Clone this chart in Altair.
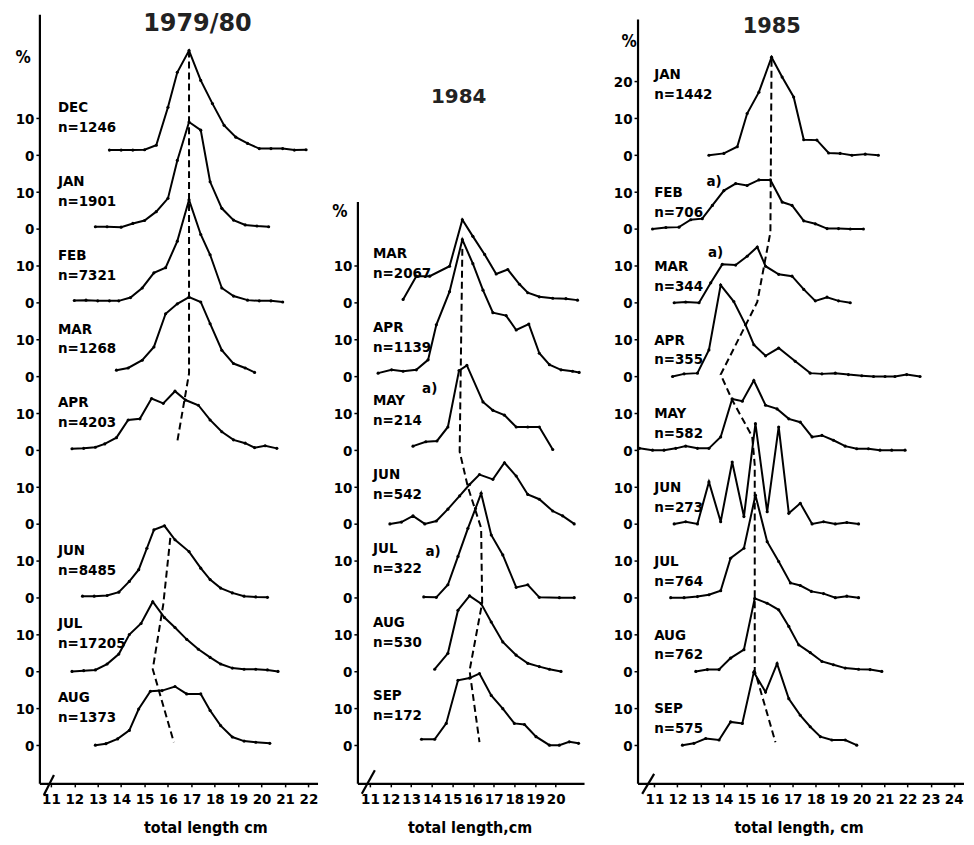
import altair as alt
import pandas as pd

FONT = "DejaVu Sans Condensed, DejaVu Sans, sans-serif"
YDOM = [-10.5, 198.5]
SLOT = 20  # each month is stacked 20 % units above the previous one

# ---------------- 1979/80 ----------------
months_7980 = ["DEC", "JAN", "FEB", "MAR", "APR", "JUN", "JUL", "AUG"]
n_7980 = ["n=1246", "n=1901", "n=7321", "n=1268", "n=4203", "n=8485", "n=17205", "n=1373"]
slot_7980 = [8, 7, 6, 5, 4, 2, 1, 0]
len_7980 = {
    "DEC": [13.5, 14.0, 14.5, 15.0, 15.5, 16.0, 16.4, 16.9, 17.4, 17.9, 18.4, 18.9, 19.4, 19.9, 20.4, 20.9, 21.4, 21.9],
    "JAN": [12.9, 13.4, 14.0, 14.5, 15.0, 15.5, 16.0, 16.4, 16.9, 17.4, 17.8, 18.3, 18.8, 19.3, 19.8, 20.3],
    "FEB": [12.0, 12.5, 13.0, 13.5, 13.9, 14.4, 14.9, 15.4, 15.9, 16.4, 16.9, 17.4, 17.8, 18.3, 18.8, 19.4, 19.9, 20.4, 20.9],
    "MAR": [13.8, 14.3, 14.9, 15.4, 15.9, 16.4, 16.9, 17.4, 17.8, 18.3, 18.8, 19.3, 19.7],
    "APR": [11.9, 12.4, 12.9, 13.3, 13.8, 14.3, 14.8, 15.3, 15.8, 16.3, 16.75, 17.3, 17.8, 18.3, 18.8, 19.3, 19.7, 20.15, 20.65],
    "JUN": [12.35, 12.85, 13.4, 13.9, 14.35, 14.75, 15.1, 15.4, 15.85, 16.3, 16.9, 17.4, 17.8, 18.25, 18.75, 19.25, 19.75, 20.25],
    "JUL": [11.9, 12.4, 12.9, 13.4, 13.9, 14.35, 14.85, 15.35, 15.85, 16.3, 16.8, 17.3, 17.8, 18.25, 18.75, 19.25, 19.75, 20.25, 20.7],
    "AUG": [12.9, 13.35, 13.85, 14.35, 14.75, 15.25, 15.75, 16.3, 16.8, 17.4, 17.8, 18.25, 18.75, 19.25, 19.75, 20.35],
}
pct_7980 = {
    "DEC": [1.4, 1.4, 1.4, 1.5, 2.7, 13, 22.5, 28.4, 20.3, 14, 8.1, 4.9, 3.2, 1.8, 1.8, 1.8, 1.4, 1.5],
    "JAN": [0.6, 0.6, 0.5, 1.5, 2.3, 4.7, 8.3, 18.6, 29, 26.8, 12.8, 5.6, 2.4, 1.1, 0.8, 0.6],
    "FEB": [0.6, 0.7, 0.5, 0.5, 0.5, 1.4, 4, 8.1, 9.5, 16.7, 27.9, 18.5, 13, 4, 1.8, 0.7, 0.5, 0.5, 0.2],
    "MAR": [1.7, 2.3, 4.4, 8, 17, 19.7, 21.5, 20.2, 14.3, 7.1, 3.5, 2.3, 1.1],
    "APR": [0.4, 0.5, 0.8, 1.7, 3.4, 8.2, 8.5, 14, 12.7, 16, 13.6, 12.2, 8.2, 5, 2.8, 1.9, 0.7, 1.2, 0.5],
    "JUN": [0.4, 0.4, 0.6, 1.5, 4.4, 7.6, 13.4, 18.4, 19.5, 15.7, 12.5, 8, 4.9, 2.6, 1.3, 0.4, 0.2, 0.1],
    "JUL": [0, 0.2, 0.4, 2, 4.7, 10, 13, 18.9, 14.6, 11.9, 8.7, 6, 3.8, 2, 0.9, 0.6, 0.6, 0.4, 0],
    "AUG": [0, 0.4, 1.7, 4, 9.8, 14.6, 14.8, 15.9, 13.9, 13.9, 9.4, 5.3, 2.2, 1.1, 0.8, 0.5],
}
mode_7980 = [
    [(16.9, 188.4), (16.9, 100.8), (16.4, 82.4)],
    [(16.1, 56.2), (15.8, 38.2), (15.35, 20.6), (16.25, 0.8)],
]

# ---------------- 1984 ----------------
months_84 = ["MAR", "APR", "MAY", "JUN", "JUL", "AUG", "SEP"]
n_84 = ["n=2067", "n=1139", "n=214", "n=542", "n=322", "n=530", "n=172"]
slot_84 = [6, 5, 4, 3, 2, 1, 0]
len_84 = {
    "MAR": [12.61, 13.25, 13.9, 14.86, 15.48, 15.99, 16.56, 17.12, 17.68, 18.25, 18.65, 19.21, 19.86, 20.5, 21.06],
    "APR": [11.4, 12.05, 12.61, 13.25, 13.82, 14.22, 14.86, 15.48, 15.99, 16.48, 16.96, 17.6, 18.09, 18.7, 19.21, 19.7, 20.26, 20.82, 21.14],
    "MAY": [13.09, 13.71, 14.25, 14.78, 15.32, 15.7, 16.48, 16.96, 17.52, 18.09, 18.65, 19.21, 19.86],
    "JUN": [11.97, 12.53, 13.09, 13.66, 14.22, 14.78, 15.35, 15.83, 16.31, 16.96, 17.52, 18.09, 18.65, 19.21, 19.86, 20.34, 20.9],
    "JUL": [13.61, 14.22, 14.78, 15.27, 15.75, 16.12, 16.39, 16.88, 17.44, 18.09, 18.65, 19.21, 20.18, 20.9],
    "AUG": [14.14, 14.78, 15.27, 15.83, 16.39, 16.88, 17.44, 18.09, 18.65, 19.21, 19.7, 20.26],
    "SEP": [13.5, 14.14, 14.7, 15.27, 15.83, 16.31, 16.88, 17.44, 18.0, 18.49, 19.05, 19.7, 20.18, 20.66, 21.11],
}
pct_84 = {
    "MAR": [0.9, 7.2, 7.2, 9.9, 22.5, 18, 13.1, 7.8, 9, 5, 2.7, 1.6, 1.2, 1.1, 0.7],
    "APR": [0.9, 1.8, 1.4, 1.8, 4.5, 14, 23, 37.1, 30.6, 23.4, 17.3, 16.5, 12.6, 14.2, 6.3, 3.2, 1.8, 1.4, 1.1],
    "MAY": [1.1, 2.3, 2.5, 6.3, 21.6, 23, 13.1, 10.8, 9.5, 6.3, 6.3, 6.3, 0.2],
    "JUN": [0, 0.5, 2.2, 0, 0.8, 4, 7.6, 10.7, 13.4, 12.1, 16.6, 13, 8, 6.7, 3.5, 2.2, 0],
    "JUL": [0.2, 0.1, 3.5, 11.2, 18.8, 24.2, 28.3, 17, 11.6, 2.8, 3.5, 0.1, 0, 0],
    "AUG": [0.6, 4.9, 16.6, 20.5, 18.4, 13.4, 8, 4.4, 2.2, 1.3, 0.6, 0],
    "SEP": [1.6, 1.6, 5.9, 17.6, 18.2, 19.4, 13.5, 9.9, 5.9, 5.6, 2.3, 0, 0, 0.9, 0.5],
}
mode_84 = [
    [(15.48, 134.6), (15.35, 79.6), (15.75, 70), (16.39, 58.9), (16.44, 38.6), (15.83, 20.2), (16.31, 0.8)],
]

# ---------------- 1985 ----------------
months_85 = ["JAN", "FEB", "MAR", "APR", "MAY", "JUN", "JUL", "AUG", "SEP"]
n_85 = ["n=1442", "n=706", "n=344", "n=355", "n=582", "n=273", "n=764", "n=762", "n=575"]
slot_85 = [8, 7, 6, 5, 4, 3, 2, 1, 0]
len_85 = {
    "JAN": [13.37, 14.02, 14.6, 15.03, 15.54, 16.09, 16.55, 17.05, 17.49, 18.06, 18.57, 19.07, 19.58, 20.16, 20.73],
    "FEB": [10.92, 11.5, 12.07, 12.58, 13.08, 13.52, 14.02, 14.53, 15.03, 15.54, 16.04, 16.55, 16.98, 17.49, 17.99, 18.5, 19.0, 19.51, 20.08],
    "MAR": [11.86, 12.36, 12.94, 13.45, 13.95, 14.53, 15.03, 15.47, 15.83, 16.4, 16.98, 17.49, 17.99, 18.5, 19.0, 19.51],
    "APR": [11.79, 12.29, 12.87, 13.37, 13.88, 14.45, 14.96, 15.32, 15.83, 16.4, 17.12, 17.77, 18.28, 18.86, 19.43, 20.01, 20.52, 21.02, 21.45, 21.96, 22.54],
    "MAY": [10.35, 10.92, 11.42, 11.93, 12.36, 12.87, 13.37, 13.88, 14.38, 14.82, 15.32, 15.83, 16.33, 16.84, 17.34, 17.85, 18.28, 18.78, 19.29, 19.79, 20.3, 20.8, 21.31, 21.89],
    "JUN": [11.86, 12.36, 12.87, 13.37, 13.88, 14.38, 14.89, 15.39, 15.9, 16.4, 16.84, 17.34, 17.85, 18.35, 18.86, 19.36, 19.87],
    "JUL": [11.71, 12.29, 12.87, 13.37, 13.88, 14.31, 14.89, 15.39, 15.9, 16.4, 16.91, 17.34, 17.82, 18.35, 18.86, 19.36, 19.87],
    "AUG": [12.8, 13.3, 13.81, 14.31, 14.89, 15.36, 15.9, 16.4, 16.84, 17.27, 17.77, 18.28, 18.78, 19.29, 19.87, 20.37, 20.88],
    "SEP": [12.22, 12.72, 13.23, 13.81, 14.31, 14.82, 15.32, 15.83, 16.33, 16.84, 17.34, 17.77, 18.21, 18.71, 19.29, 19.79],
}
pct_85 = {
    "JAN": [0, 0.5, 2.3, 11.3, 17.1, 26.6, 21.2, 15.8, 4.2, 4.1, 0.6, 0.5, 0, 0.3, 0],
    "FEB": [0, 0.4, 0.5, 2.5, 2.8, 6.4, 10.4, 12.3, 11.8, 13.3, 13.3, 7.3, 6.4, 2.2, 1.4, 0.1, 0.1, 0, 0],
    "MAR": [0, 0.2, 0, 5.4, 10.4, 10.2, 12.6, 15.1, 9.9, 7.7, 7.2, 3.6, 0.5, 1.5, 0.5, 0],
    "APR": [0, 0.7, 0.9, 7.2, 24.8, 20.3, 14, 8.6, 5.6, 7.7, 4.1, 0.9, 0.7, 0.9, 0.5, 0.2, 0, 0, 0, 0.5, 0],
    "MAY": [0.5, 0, 0, 0.5, 1.1, 0.5, 0.5, 3.6, 13.9, 13.3, 18.9, 12.2, 11.2, 8.5, 7.6, 3.6, 4, 2.7, 1.1, 0.4, 0.4, 0, 0, 0],
    "JUN": [0, 0.6, 0, 11.4, 0.6, 16.8, 2, 27.2, 3.3, 26.3, 2.9, 5.6, 0, 0.6, 0, 0.4, 0],
    "JUL": [0, 0, 0.3, 0.8, 1.9, 10.7, 13.4, 27.8, 15.2, 9.8, 4, 3.3, 1.7, 1.1, 0, 0.4, 0],
    "AUG": [0, 0.5, 0.5, 3.6, 5.9, 19.8, 18.5, 16.7, 12.2, 7.2, 5.1, 2.7, 1.8, 0.9, 0.6, 0.5, 0],
    "SEP": [0, 0.5, 1.8, 1.4, 6.3, 5.9, 19.8, 14.4, 22.1, 12.6, 8.1, 5, 2.3, 1.4, 1.4, 0],
}
mode_85 = [
    [(16.09, 185.9), (16.04, 139.1), (15.47, 120.2), (14.89, 113), (13.88, 100.5), (14.38, 93.6),
     (15.25, 83.7), (15.36, 76), (15.36, 20.2), (16.26, 0.8)],
]

PANELS = [
    dict(title="1979/80", title_pos=(17.26, 195.7), title_size=24,
         months=months_7980, ns=n_7980, slots=slot_7980, lens=len_7980, pcts=pct_7980, modes=mode_7980,
         xdom=[10.53, 22.41], width=279, xticks=list(range(11, 23)), yvals=list(range(0, 180, 10)),
         lab_x=11.3, lab_off=[(13, 7.6)] * 8, axis_top=198.1, xaxis_end=22.41,
         pct_pos=(9.81, 186.5), brk=(10.70, -13.5, 11.13, -8.1),
         xtitle="total length cm", xtitle_x=166, notes=[]),
    dict(title="1984", title_pos=(15.3, 175.9), title_size=20,
         months=months_84, ns=n_84, slots=slot_84, lens=len_84, pcts=pct_84, modes=mode_84,
         xdom=[10.42, 22.06], width=241, xticks=list(range(11, 21)), yvals=list(range(0, 140, 10)),
         lab_x=11.15, lab_off=[(13.5, 8.1)] * 7, axis_top=147.3, xaxis_end=21.4,
         pct_pos=(9.55, 144.6), brk=(10.61, -13.2, 11.24, -6.8),
         xtitle="total length,cm", xtitle_x=112,
         notes=[(13.9, 96.8, "a)"), (14.06, 52.7, "a)")]),
    dict(title="1985", title_pos=(16.1, 194.9), title_size=21,
         months=months_85, ns=n_85, slots=slot_85, lens=len_85, pcts=pct_85, modes=mode_85,
         xdom=[10.29, 24.45], width=327, xticks=list(range(11, 25)), yvals=list(range(0, 190, 10)),
         lab_x=10.99, lab_off=[(21.9, 16.5)] + [(10, 4.6)] * 8, axis_top=196.8, xaxis_end=24.45,
         pct_pos=(9.9, 190.8), brk=(10.47, -13.2, 10.99, -7.8),
         xtitle="total length, cm", xtitle_x=161,
         notes=[(13.59, 153, "a)"), (13.66, 133.8, "a)")]),
]

LABEL_EXPR = "datum.value == 180 ? '20' : (datum.value % 20 == 0 ? '0' : '10')"


def build_panel(P):
    xs = alt.Scale(domain=P["xdom"], nice=False, zero=False)
    ys = alt.Scale(domain=YDOM, nice=False, zero=False)

    xaxis = alt.Axis(values=P["xticks"], domain=False, grid=False, ticks=True, tickSize=3,
                     tickColor="black", tickWidth=1.5, labelFont=FONT, labelFontSize=15,
                     labelFontWeight="bold", labelColor="black", labelPadding=5,
                     labelFlush=False, labelOverlap=False,
                     title=P["xtitle"], titleFont=FONT, titleFontSize=16, titleFontWeight="bold",
                     titleColor="black", titleX=P["xtitle_x"], titleY=44, titleAlign="center",
                     titleBaseline="middle")
    yaxis = alt.Axis(values=P["yvals"], domain=False, grid=False, ticks=True, tickSize=4,
                     tickColor="black", tickWidth=1.5, labelFont=FONT, labelFontSize=15,
                     labelFontWeight="bold", labelColor="black", labelPadding=2,
                     labelExpr=LABEL_EXPR, title="")

    def X():
        return alt.X("x:Q", scale=xs, axis=xaxis)

    def Y():
        return alt.Y("u:Q", scale=ys, axis=yaxis)

    rows = []
    for m, k in zip(P["months"], P["slots"]):
        for i, (x, p) in enumerate(zip(P["lens"][m], P["pcts"][m])):
            rows.append({"month": m, "i": i, "x": x, "u": SLOT * k + p})
    lines = alt.Chart(pd.DataFrame(rows)).mark_line(
        color="black", strokeWidth=2,
        point=alt.OverlayMarkDef(filled=True, size=10, color="black"),
    ).encode(x=X(), y=Y(), detail="month:N", order="i:Q")

    mrows = []
    for s, seg in enumerate(P["modes"]):
        for i, (x, u) in enumerate(seg):
            mrows.append({"seg": s, "i": i, "x": x, "u": u})
    modes = alt.Chart(pd.DataFrame(mrows)).mark_line(
        color="black", strokeWidth=2, strokeDash=[7, 4]
    ).encode(x=X(), y=Y(), detail="seg:N", order="i:Q")

    x0 = P["xdom"][0]
    b = P["brk"]
    frame = pd.DataFrame([
        {"x": x0, "u": YDOM[0], "x2": x0, "u2": P["axis_top"]},
        {"x": x0, "u": YDOM[0], "x2": P["xaxis_end"], "u2": YDOM[0]},
        {"x": b[0], "u": b[1], "x2": b[2], "u2": b[3]},
    ])
    axes = alt.Chart(frame).mark_rule(color="black", strokeWidth=2.2).encode(
        x=X(), y=Y(), x2="x2:Q", y2="u2:Q")

    lrows = []
    for m, n, k, (o1, o2) in zip(P["months"], P["ns"], P["slots"], P["lab_off"]):
        lrows.append({"x": P["lab_x"], "u": SLOT * k + o1, "t": m})
        lrows.append({"x": P["lab_x"], "u": SLOT * k + o2, "t": n})
    labels = alt.Chart(pd.DataFrame(lrows)).mark_text(
        align="left", baseline="middle", font=FONT, fontSize=15, fontWeight="bold", color="black"
    ).encode(x=X(), y=Y(), text="t:N")

    trows = [{"x": P["title_pos"][0], "u": P["title_pos"][1], "t": P["title"]}]
    title = alt.Chart(pd.DataFrame(trows)).mark_text(
        align="center", baseline="middle", font="DejaVu Sans", fontSize=P["title_size"],
        fontWeight="bold", color="#222222"
    ).encode(x=X(), y=Y(), text="t:N")

    prow = [{"x": P["pct_pos"][0], "u": P["pct_pos"][1], "t": "%"}]
    pct = alt.Chart(pd.DataFrame(prow)).mark_text(
        align="center", baseline="middle", font=FONT, fontSize=17, fontWeight="bold", color="black"
    ).encode(x=X(), y=Y(), text="t:N")

    layers = [lines, modes, axes, labels, title, pct]
    if P["notes"]:
        nrows = [{"x": x, "u": u, "t": t} for x, u, t in P["notes"]]
        notes = alt.Chart(pd.DataFrame(nrows)).mark_text(
            align="center", baseline="middle", font=FONT, fontSize=15, fontWeight="bold", color="black"
        ).encode(x=X(), y=Y(), text="t:N")
        layers.append(notes)

    return alt.layer(*layers).properties(width=P["width"], height=773)


panels = [build_panel(P) for P in PANELS]
chart = alt.hconcat(*panels, spacing=40, bounds="flush").properties(
    padding={"left": 7, "top": 2, "right": 0, "bottom": 0},
    background="white",
).configure_view(stroke=None)

chart.save("out.html", embed_options={"renderer": "svg", "actions": False})
